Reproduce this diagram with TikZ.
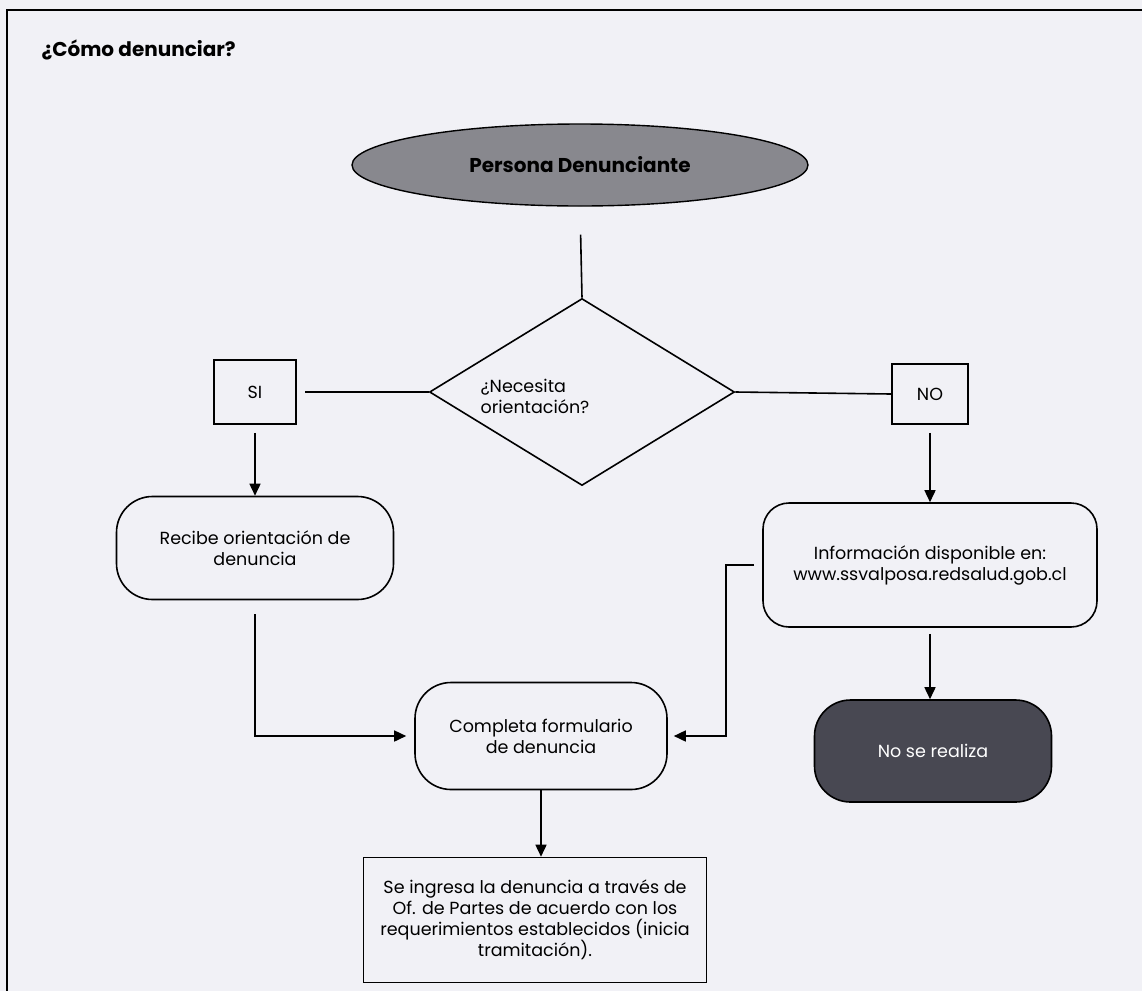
\documentclass[tikz,border=0pt]{standalone}
\usepackage{fontspec}
\setmainfont{Poppins}
\usetikzlibrary{shapes.geometric,arrows.meta}

\definecolor{paper}{RGB}{241,241,246}
\definecolor{ellgray}{RGB}{136,136,142}
\definecolor{termgray}{RGB}{72,72,82}

\tikzset{
  txt/.style={font=\fontsize{17.5}{21}\selectfont},
  boldtxt/.style={font=\bfseries\fontsize{20}{24}\selectfont},
  box/.style={draw, line width=1.6pt, align=center, txt},
  roundbox/.style={box, rounded corners=36pt},
  link/.style={line width=1.6pt},
  arrowlink/.style={link, -{Triangle[length=12pt,width=11pt]}},
}

\begin{document}
\begin{tikzpicture}[x=1pt, y=-1pt]
  \fill[paper] (0,0) rectangle (1142,991);
  \useasboundingbox (0,0) rectangle (1142,991);
  % marco
  \draw[line width=2pt] (1142,10) -- (7,10) -- (7,991);
  \node[anchor=west, boldtxt] (title) at (38,50) {¿Cómo denunciar?};

  % nodos
  \node[ellipse, draw, fill=ellgray, line width=1.4pt, minimum width=456pt, minimum height=82pt, boldtxt] (persona) at (580,165) {Persona Denunciante};
  \node[diamond, draw, line width=1.6pt, inner sep=0pt, minimum width=305pt, minimum height=187pt] (decide) at (582,392) {};
  \node[align=left, txt] (pregunta) at (535,396) {¿Necesita\\orientación?};
  \node[box, minimum width=82pt, minimum height=64pt] (si) at (255,392) {SI};
  \node[box, minimum width=76pt, minimum height=60pt] (no) at (930,394) {NO};
  \node[roundbox, rounded corners=26pt, minimum width=334pt, minimum height=124pt] (info) at (930,565) {Información disponible en:\\www.ssvalposa.redsalud.gob.cl};
  \node[roundbox, fill=termgray, text=white, minimum width=237pt, minimum height=102pt] (fin) at (933,751) {No se realiza};
  \node[roundbox, minimum width=277pt, minimum height=103pt] (recibe) at (255,548) {Recibe orientación de\\denuncia};
  \node[roundbox, minimum width=252pt, minimum height=107pt] (completa) at (541,736) {Completa formulario\\de denuncia};
  \node[box, minimum width=343pt, minimum height=125pt] (tramite) at (535,920) {Se ingresa la denuncia a través de\\Of. de Partes de acuerdo con los\\requerimientos establecidos (inicia\\tramitación).};

  % conectores
  \draw[link, shorten <=28pt] (persona.south) -- (decide.north);
  \draw[link, shorten >=8pt] (decide.west) -- (si.east);
  \draw[link] (decide.east) -- (no.west);
  \draw[arrowlink, shorten <=8pt] (si.south) -- (recibe.north);
  \draw[arrowlink, shorten <=8pt] (no.south) -- (info.north);
  \draw[arrowlink, shorten <=6pt] (info.south) -- (info.south |- fin.north);
  \draw[arrowlink, shorten <=14pt, shorten >=8pt] (recibe.south) |- (completa.west);
  \draw[arrowlink, shorten <=8pt, shorten >=6pt] (info.west) -- ++(-36,0) |- (completa.east);
  \draw[arrowlink] (completa.south) -- (completa.south |- tramite.north);
\end{tikzpicture}
\end{document}
